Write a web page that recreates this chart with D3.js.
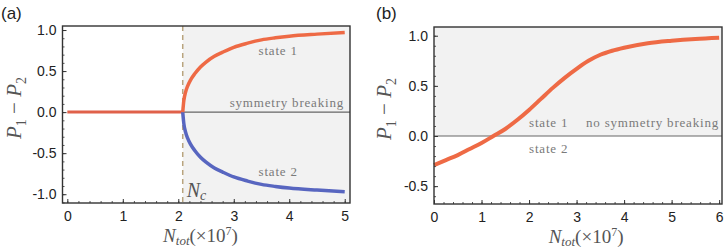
<!DOCTYPE html>
<html>
<head>
<meta charset="utf-8">
<script src="https://cdn.jsdelivr.net/npm/d3@7"></script>
<style>
  body { margin: 0; background: #fff; }
  svg text { font-family: "Liberation Sans", Arial, sans-serif; }
  .serif { font-family: "Liberation Serif", "Times New Roman", serif; }
  .note { font-family: "Liberation Serif", serif; fill: #7a7a7a; font-size: 13px; letter-spacing: 0.8px; }
</style>
</head>
<body>
<div id="chart"></div>
<script>
// panel (a) data
var nc = 2.08;
var flatX = [0, 2.08];
var flatY = [0, 0];
var state1X = [2.08, 2.1, 2.13, 2.17, 2.22, 2.3, 2.4, 2.5, 2.65, 2.8, 3.0, 3.25, 3.5, 3.75, 4.0, 4.5, 5.0];
var state1Y = [0, 0.14, 0.24, 0.32, 0.39, 0.47, 0.55, 0.61, 0.68, 0.73, 0.79, 0.84, 0.88, 0.905, 0.925, 0.95, 0.97];
var state2X = state1X;
var state2Y = [0, -0.14, -0.24, -0.32, -0.39, -0.47, -0.55, -0.61, -0.68, -0.73, -0.79, -0.84, -0.88, -0.905, -0.925, -0.95, -0.97];
var ticksAX = [0, 1, 2, 3, 4, 5];
var ticksAY = [-1.0, -0.5, 0.0, 0.5, 1.0];

// panel (b) data
var curveBX = [0, 0.25, 0.5, 0.75, 1.0, 1.25, 1.5, 1.75, 2.0, 2.25, 2.5, 2.75, 3.0, 3.25, 3.5, 3.75, 4.0, 4.5, 5.0, 5.5, 6.0];
var curveBY = [-0.29, -0.24, -0.19, -0.13, -0.07, 0.0, 0.07, 0.16, 0.26, 0.37, 0.48, 0.58, 0.67, 0.75, 0.81, 0.85, 0.88, 0.925, 0.95, 0.968, 0.98];
var ticksBX = [0, 1, 2, 3, 4, 5, 6];
var ticksBY = [-0.5, 0.0, 0.5, 1.0];

var orange = "#ee6a45";
var blue = "#5866c0";

var svg = d3.select("#chart").append("svg")
  .attr("width", 725)
  .attr("height", 248);

function zip(xs, ys) {
  return xs.map((x, i) => [x, ys[i]]);
}

function drawFrame(g, x, y, xTicks, yTicks, xMinorStep, yMinorStep) {
  var w = x.range()[1] - x.range()[0];
  var h = y.range()[0] - y.range()[1];
  var xd = x.domain(), yd = y.domain();

  var minorX = d3.range(Math.ceil(xd[0] / xMinorStep), Math.floor(xd[1] / xMinorStep) + 1).map((k) => k * xMinorStep);
  var minorY = d3.range(Math.ceil(yd[0] / yMinorStep), Math.floor(yd[1] / yMinorStep) + 1).map((k) => k * yMinorStep);

  // minor ticks
  g.append("g")
    .attr("transform", `translate(0, ${h})`)
    .call(d3.axisBottom(x).tickValues(minorX).tickSize(-2).tickFormat(""))
    .call((a) => a.select(".domain").remove())
    .selectAll("line").attr("stroke", "#555");
  g.append("g")
    .call(d3.axisLeft(y).tickValues(minorY).tickSize(-2).tickFormat(""))
    .call((a) => a.select(".domain").remove())
    .selectAll("line").attr("stroke", "#555");

  // major ticks with labels
  var bottom = g.append("g")
    .attr("transform", `translate(0, ${h})`)
    .call(d3.axisBottom(x).tickValues(xTicks).tickSize(-4).tickPadding(8).tickFormat(d3.format("d")));
  bottom.select(".domain").remove();
  bottom.selectAll("line").attr("stroke", "#333");
  bottom.selectAll("text").attr("font-size", 14).attr("fill", "#222")
    .attr("font-family", "Liberation Sans, Arial, sans-serif");

  var left = g.append("g")
    .call(d3.axisLeft(y).tickValues(yTicks).tickSize(-4).tickPadding(6).tickFormat((d) => d3.format(".1f")(d).replace("−", "-")));
  left.select(".domain").remove();
  left.selectAll("line").attr("stroke", "#333");
  left.selectAll("text").attr("font-size", 14).attr("fill", "#222")
    .attr("font-family", "Liberation Sans, Arial, sans-serif");

  // frame
  g.append("rect")
    .attr("x", 0).attr("y", 0)
    .attr("width", w).attr("height", h)
    .attr("fill", "none")
    .attr("stroke", "#333")
    .attr("stroke-width", 1.4);
}

function axisTitles(g, cx, cy, xTitleX, xTitleY) {
  var yt = g.append("text")
    .attr("class", "serif")
    .attr("transform", `translate(${cx}, ${cy}) rotate(-90)`)
    .attr("text-anchor", "middle")
    .attr("font-size", 21)
    .attr("fill", "#555");
  yt.append("tspan").attr("font-style", "italic").text("P");
  yt.append("tspan").attr("font-size", 14).attr("dy", 5).text("1");
  yt.append("tspan").attr("dy", -5).text(" − ");
  yt.append("tspan").attr("font-style", "italic").text("P");
  yt.append("tspan").attr("font-size", 14).attr("dy", 5).text("2");

  var xt = g.append("text")
    .attr("class", "serif")
    .attr("x", xTitleX).attr("y", xTitleY)
    .attr("text-anchor", "middle")
    .attr("font-size", 19)
    .attr("fill", "#555");
  xt.append("tspan").attr("font-style", "italic").text("N");
  xt.append("tspan").attr("font-style", "italic").attr("font-size", 13).attr("dy", 3).text("tot");
  xt.append("tspan").attr("dy", -3).text("(×10");
  xt.append("tspan").attr("font-size", 12).attr("dy", -7).text("7");
  xt.append("tspan").attr("dy", 7).text(")");
}

var line = (x, y) => d3.line().x((d) => x(d[0])).y((d) => y(d[1])).curve(d3.curveMonotoneX);

// ---------- panel (a) ----------
var aLeft = 62.5, aTop = 26, aW = 287.5, aH = 177;
var xA = d3.scaleLinear().domain([-0.087, 5.095]).range([0, aW]);
var yA = d3.scaleLinear().domain([-1.107, 1.049]).range([aH, 0]);
var gA = svg.append("g").attr("transform", `translate(${aLeft}, ${aTop})`);

gA.append("rect")
  .attr("x", xA(nc)).attr("y", 0)
  .attr("width", aW - xA(nc)).attr("height", aH)
  .attr("fill", "#f2f2f2");

gA.append("line")
  .attr("x1", xA(nc)).attr("x2", aW)
  .attr("y1", yA(0)).attr("y2", yA(0))
  .attr("stroke", "#666").attr("stroke-width", 1.2);

gA.append("line")
  .attr("x1", xA(nc)).attr("x2", xA(nc))
  .attr("y1", 0).attr("y2", aH)
  .attr("stroke", "#b9a47e").attr("stroke-width", 1.5)
  .attr("stroke-dasharray", "5,4");

gA.append("path").datum(zip(flatX, flatY))
  .attr("d", line(xA, yA)).attr("fill", "none")
  .attr("stroke", "#e0614a").attr("stroke-width", 3);
gA.append("path").datum(zip(state2X, state2Y))
  .attr("d", line(xA, yA)).attr("fill", "none")
  .attr("stroke", blue).attr("stroke-width", 3.5);
gA.append("path").datum(zip(state1X, state1Y))
  .attr("d", line(xA, yA)).attr("fill", "none")
  .attr("stroke", orange).attr("stroke-width", 3.5);

gA.append("text").attr("class", "note").attr("x", xA(3.8)).attr("y", 29).attr("text-anchor", "middle").text("state 1");
gA.append("text").attr("class", "note").attr("x", aW - 6).attr("y", 81).attr("text-anchor", "end").text("symmetry breaking");
gA.append("text").attr("class", "note").attr("x", xA(3.8)).attr("y", 150).attr("text-anchor", "middle").text("state 2");

var ncText = gA.append("text").attr("class", "serif")
  .attr("x", xA(nc) + 4).attr("y", aH - 6)
  .attr("font-size", 20).attr("fill", "#555");
ncText.append("tspan").attr("font-style", "italic").text("N");
ncText.append("tspan").attr("font-style", "italic").attr("font-size", 14).attr("dy", 3).text("c");

drawFrame(gA, xA, yA, ticksAX, ticksAY, 0.2, 0.1);
axisTitles(gA, -42, 82, xA(2.4), 216);

svg.append("text").attr("x", 1).attr("y", 19).attr("font-size", 17).attr("fill", "#222").text("(a)");

// ---------- panel (b) ----------
var bLeft = 434, bTop = 27, bW = 288, bH = 177;
var xB = d3.scaleLinear().domain([0, 6.06]).range([0, bW]);
var yB = d3.scaleLinear().domain([-0.678, 1.087]).range([bH, 0]);
var gB = svg.append("g").attr("transform", `translate(${bLeft}, ${bTop})`);

gB.append("rect")
  .attr("x", 0).attr("y", 0)
  .attr("width", bW).attr("height", yB(0))
  .attr("fill", "#f2f2f2");

gB.append("line")
  .attr("x1", 0).attr("x2", bW)
  .attr("y1", yB(0)).attr("y2", yB(0))
  .attr("stroke", "#666").attr("stroke-width", 1.2);

gB.append("path").datum(zip(curveBX, curveBY))
  .attr("d", line(xB, yB)).attr("fill", "none")
  .attr("stroke", orange).attr("stroke-width", 4);

gB.append("text").attr("class", "note").attr("x", xB(2.0)).attr("y", 100).attr("text-anchor", "start").text("state 1");
gB.append("text").attr("class", "note").attr("x", bW - 3).attr("y", 100).attr("text-anchor", "end").text("no symmetry breaking");
gB.append("text").attr("class", "note").attr("x", xB(2.0)).attr("y", 126).attr("text-anchor", "start").text("state 2");

drawFrame(gB, xB, yB, ticksBX, ticksBY, 0.2, 0.1);
axisTitles(gB, -43, 82, xB(3.2), 216);

svg.append("text").attr("x", 376).attr("y", 19).attr("font-size", 17).attr("fill", "#222").text("(b)");
</script>
</body>
</html>
